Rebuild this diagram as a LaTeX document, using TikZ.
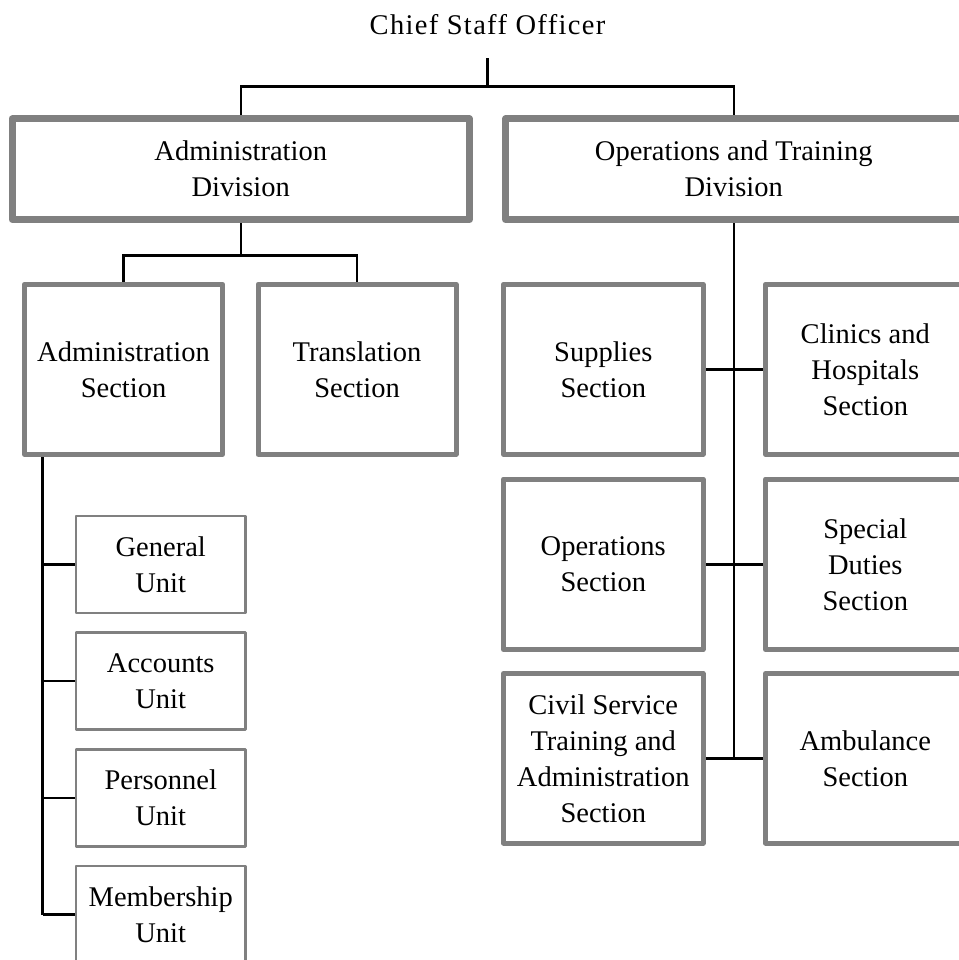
\documentclass[tikz,border=0pt]{standalone}
\usepackage{fontspec}
\setmainfont{Liberation Serif}
\newfontfamily\titlefont[LetterSpace=4.7]{Liberation Serif}
\usetikzlibrary{backgrounds,calc}

\begin{document}
\begin{tikzpicture}[x=1pt,y=-1pt,
  txt/.style={font=\fontsize{28.5}{36}\selectfont, align=center, text=black, inner sep=0pt},
  divbox/.style={txt, draw=boxgray, line width=7pt, fill=white, line join=round,
                 minimum height=100.5pt},
  secbox/.style={txt, draw=boxgray, line width=5pt, fill=white, line join=round,
                 minimum width=198pt, minimum height=170pt},
  unitbox/.style={txt, draw=boxgray, line width=2.5pt, fill=white, line join=round,
                  minimum width=169.5pt, minimum height=97pt},
  link/.style={draw=black, line width=2.5pt}]
\definecolor{boxgray}{RGB}{128,128,128}
\useasboundingbox (0,0) rectangle (958,960);

% top
\node[txt, anchor=base] (chief) at (487.5,35) {\titlefont Chief Staff Officer};

% divisions
\node[divbox, minimum width=457.5pt] (adiv) at (240.75,169.25) {Administration\\Division};
\node[divbox, minimum width=456.5pt] (odiv) at (733.75,169.25) {Operations and Training\\Division};

% administration branch
\node[secbox] (asec) at (123.5,369.25) {Administration\\Section};
\node[secbox] (tsec) at (357,369.25) {Translation\\Section};

\node[unitbox] (gen) at (160.75,564.5) {General\\Unit};
\node[unitbox] (acc) at (160.75,681.2) {Accounts\\Unit};
\node[unitbox] (per) at (160.75,797.9) {Personnel\\Unit};
\node[unitbox] (mem) at (160.75,914.6) {Membership\\Unit};

% operations branch
\node[secbox, minimum width=199.5pt] (sup) at (603.25,369.25) {Supplies\\Section};
\node[secbox, minimum width=199.5pt] (cli) at (865.25,369.25) {Clinics and\\Hospitals\\Section};
\node[secbox, minimum width=199.5pt, minimum height=170.5pt] (ops) at (603.25,564.25) {Operations\\Section};
\node[secbox, minimum width=199.5pt, minimum height=170.5pt] (spd) at (865.25,564.25) {Special\\Duties\\Section};
\node[secbox, minimum width=199.5pt, minimum height=169.5pt] (civ) at (603.25,758.25) {Civil Service\\Training and\\Administration\\Section};
\node[secbox, minimum width=199.5pt, minimum height=169.5pt] (amb) at (865.25,758.25) {Ambulance\\Section};

% connectors
\begin{scope}[on background layer]
  \draw[link] ([yshift=-23pt]chief.south) -- ++(0,28) coordinate (fork);
  \draw[link] (adiv.north) |- (fork) -| (odiv.north);

  \draw[link] (adiv.south) -- ++(0,32.5) coordinate (afork);
  \draw[link] (asec.north) |- (afork) -| (tsec.north);

  \coordinate (abus) at ($(asec.south west)+(20.5,0)$);
  \draw[link] (abus) -- (abus |- mem.west);
  \foreach \u in {gen,acc,per,mem}
    \draw[link] (abus |- \u.west) -- (\u.west);

  \draw[link] (odiv.south) -- (odiv.south |- civ.east);
  \draw[link] (sup.east) -- (cli.west);
  \draw[link] (ops.east) -- (spd.west);
  \draw[link] (civ.east) -- (amb.west);
\end{scope}
\end{tikzpicture}
\end{document}
